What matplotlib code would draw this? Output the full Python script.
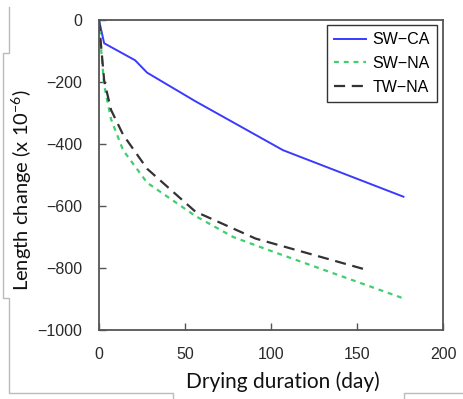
import matplotlib.pyplot as plt
from matplotlib.lines import Line2D
import numpy as np

# data
ca_day = [0, 3, 21, 28, 56, 107, 177]
ca_len = [0, -75, -130, -170, -262, -420, -570]

swna_day = [0, 1, 3, 7, 14, 28, 56, 78, 100, 178]
swna_len = [0, -80, -210, -320, -420, -525, -632, -700, -745, -900]

twna_day = [0, 1, 3, 7, 14, 28, 56, 91, 155]
twna_len = [0, -70, -195, -290, -370, -480, -618, -705, -805]

xticks = [0, 50, 100, 150, 200]
yticks = [0, -200, -400, -600, -800, -1000]

W, H = 463, 399
fig = plt.figure(figsize=(W / 100, H / 100), dpi=100)
ax = fig.add_axes([99 / W, 1 - 330 / H, 344 / W, 310 / H])

ax.plot(ca_day, ca_len, color="#3a3aff", lw=1.4, label="SW\u2212CA")
ax.plot(swna_day, swna_len, color="#3fcf6f", lw=1.6, ls=(0, (2.2, 2.2)), label="SW\u2212NA")
ax.plot(twna_day, twna_len, color="#333333", lw=1.6, ls=(0, (5, 3)), label="TW\u2212NA")

ax.set_xlim(0, 200)
ax.set_ylim(-1000, 0)
ax.set_xticks(xticks)
ax.set_yticks(yticks)
ax.set_yticklabels([str(v).replace("-", "\u2212") for v in yticks])
for sp in ax.spines.values():
    sp.set_color("#555555")
    sp.set_linewidth(1.3)
ax.tick_params(direction="in", length=5, width=1, color="#555555",
               labelsize=11.5, labelcolor="#2a2a2a", pad=12)
for t in ax.get_xticklabels() + ax.get_yticklabels():
    t.set_family("Liberation Sans")

ax.set_xlabel("Drying duration (day)", fontsize=15, family="Lato", color="#111111")
ax.xaxis.set_label_coords(0.535, -0.135)
ax.set_ylabel(r"Length change (x 10$^{\mathregular{-6}}$)", fontsize=14.5,
              family="Lato", color="#111111")
ax.yaxis.set_label_coords(-0.19, 0.45)

leg = ax.legend(loc="upper right", bbox_to_anchor=(0.983, 0.984), fancybox=False,
                edgecolor="#333333", framealpha=1, handlelength=2.0,
                prop={"family": "Liberation Sans", "size": 11.5}, borderaxespad=0,
                labelspacing=0.55, handletextpad=0.4, borderpad=0.45)
leg.get_frame().set_linewidth(1.0)

# light boxes left over around the label areas
segs = [
    [(9, 7), (9, 53), (3, 53), (3, 298), (9, 298), (9, 393), (173, 393), (173, 399)],
    [(404, 399), (404, 393), (463, 393)],
]
for s in segs:
    xs = [p[0] / W for p in s]
    ys = [1 - p[1] / H for p in s]
    fig.add_artist(Line2D(xs, ys, transform=fig.transFigure, color="#bbbbbb", lw=1))

fig.savefig("out.png", dpi=100)
